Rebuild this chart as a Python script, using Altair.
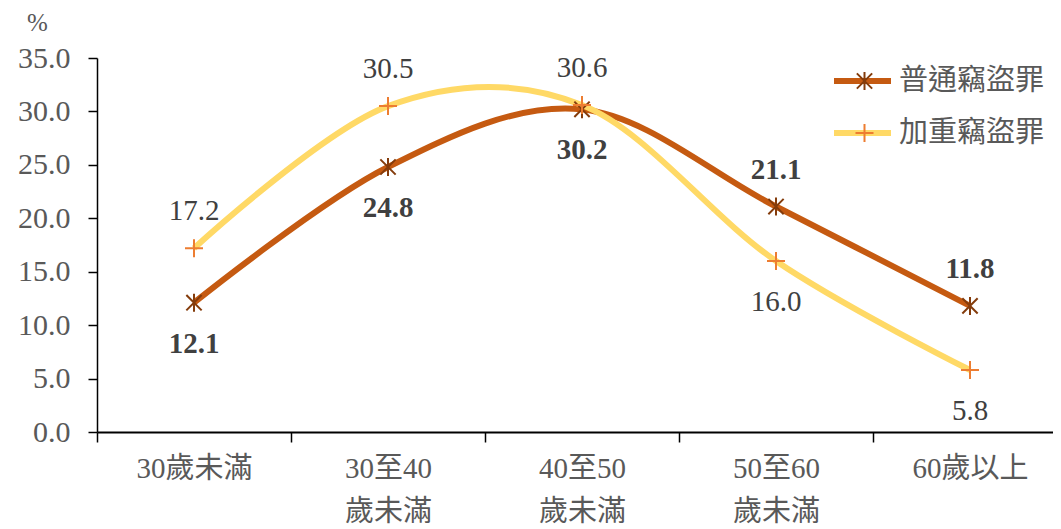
import altair as alt
import pandas as pd

categories = ["30歲未滿", "30至40\n歲未滿", "40至50\n歲未滿", "50至60\n歲未滿", "60歲以上"]
series_names = ["普通竊盜罪", "加重竊盜罪"]
ordinary = [12.1, 24.8, 30.2, 21.1, 11.8]
aggravated = [17.2, 30.5, 30.6, 16.0, 5.8]
y_ticks = [0, 5, 10, 15, 20, 25, 30, 35]

line_colors = ["#C55A11", "#FFD966"]
marker_colors = ["#843C0C", "#ED7D31"]
star_path = "M-0.85,-0.85L0.85,0.85M-0.85,0.85L0.85,-0.85M0,-1L0,1"
plus_path = "M-1,0L1,0M0,-1L0,1"

rows = []
for i, c in enumerate(categories):
    a, b = ordinary[i], aggravated[i]
    rows.append({"cat": c, "series": series_names[0], "value": a, "above": bool(a >= b)})
    rows.append({"cat": c, "series": series_names[1], "value": b, "above": bool(b > a)})
df = pd.DataFrame(rows)

x_enc = alt.X(
    "cat:N", sort=categories,
    scale=alt.Scale(type="band", range=[0, 970], paddingInner=0, paddingOuter=0),
    axis=alt.Axis(title=None, labelAngle=0, tickBand="extent", domainColor="black",
                  domainWidth=2, tickColor="black", tickWidth=1.5, tickSize=10,
                  labelFont="Liberation Serif, Noto Sans CJK TC", labelFontSize=29,
                  labelColor="#595959", labelPadding=12, labelLineHeight=43,
                  labelBaseline="top",
                  labelExpr="split(datum.label, '\\n')"),
)
y_enc = alt.Y(
    "value:Q",
    scale=alt.Scale(domain=[0, 35], nice=False, zero=True),
    axis=alt.Axis(values=y_ticks, format=".1f", grid=False, domainColor="black",
                  domainWidth=1.5, tickColor="black", tickWidth=1.5, tickSize=9,
                  labelFont="Liberation Serif", labelFontSize=30, labelColor="#595959",
                  labelPadding=18, title="%", titleAngle=0, titleX=-60, titleY=-36,
                  titleFont="Liberation Serif", titleFontSize=25, titleFontWeight="normal",
                  titleColor="#595959", titleAlign="center", titleBaseline="middle"),
)

base = alt.Chart(df)

line_color = alt.Color(
    "series:N", sort=series_names,
    scale=alt.Scale(domain=series_names, range=line_colors),
    legend=alt.Legend(title=None, orient="none", legendX=734, legendY=8,
                      symbolType="stroke", symbolStrokeWidth=6, symbolSize=3249,
                      labelFont="Noto Sans CJK TC", labelFontSize=29, labelColor="#595959",
                      labelOffset=5, rowPadding=22, clipHeight=30, padding=0),
)

lines = alt.layer(*[
    base.transform_filter(alt.datum.series == s)
    .mark_line(strokeWidth=6, interpolate="cardinal")
    .encode(x=x_enc, y=y_enc, color=line_color)
    for s in series_names
])

pt_legend = alt.Legend(title=None, orient="none", legendX=753, legendY=8,
                       symbolSize=324, symbolStrokeWidth=2,
                       labelFontSize=29, labelExpr="''",
                       labelOffset=5, rowPadding=22, clipHeight=30, padding=0)
points = alt.layer(*[
    base.transform_filter(alt.datum.series == s)
    .mark_point(filled=False, strokeWidth=2, size=324, opacity=1)
    .encode(
        x=x_enc, y=y_enc,
        color=alt.Color("series:N", sort=series_names,
                        scale=alt.Scale(domain=series_names, range=marker_colors),
                        legend=pt_legend),
        shape=alt.Shape("series:N", sort=series_names,
                        scale=alt.Scale(domain=series_names, range=[star_path, plus_path]),
                        legend=pt_legend),
    )
    for s in series_names
])

texts = []
for s, weight in zip(series_names, ["bold", "normal"]):
    for above, dy in [(True, -37), (False, 41)]:
        texts.append(
            base.transform_filter((alt.datum.series == s) & (alt.datum.above == above))
            .mark_text(font="Liberation Serif", fontSize=29, fontWeight=weight,
                       color="#404040", dy=dy, baseline="middle")
            .encode(x=x_enc, y=y_enc, text=alt.Text("value:Q", format=".1f"))
        )
labels = alt.layer(*texts)

chart = (
    alt.layer(lines, points, labels)
    .resolve_scale(color="independent", shape="independent")
    .properties(width=956, height=374,
                autosize=alt.AutoSizeParams(type="none"),
                padding={"left": 89, "top": 50, "right": 0, "bottom": 95})
    .configure_view(stroke=None)
)

chart.save("out.html", embed_options={"renderer": "svg", "actions": False})
